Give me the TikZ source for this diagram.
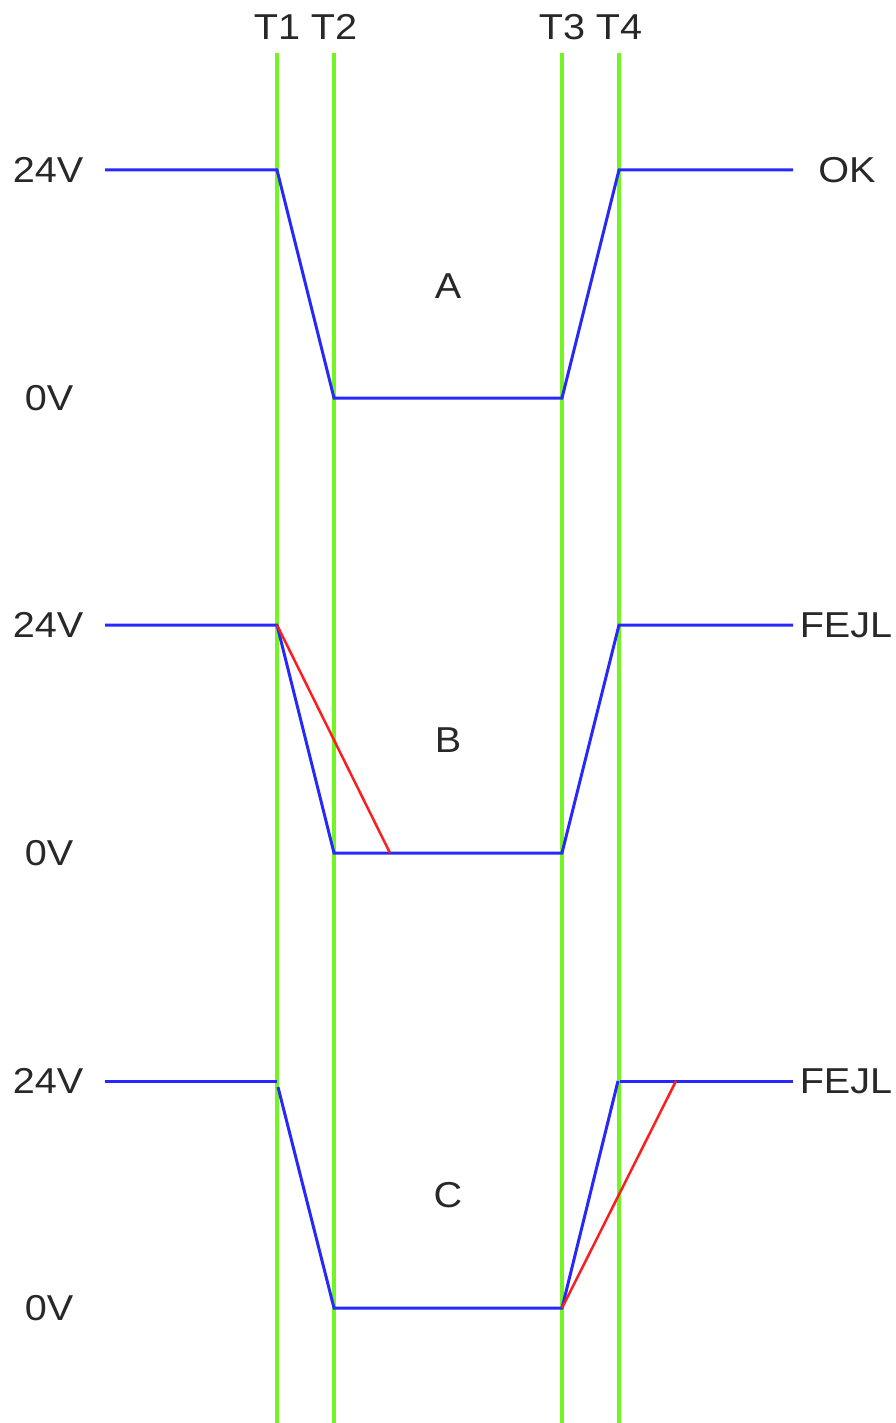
\documentclass[tikz,border=0pt]{standalone}
\usepackage{fontspec}
\setmainfont{Liberation Sans}[FakeStretch=1.1]
\definecolor{tgreen}{RGB}{115,245,35}
\definecolor{tblue}{RGB}{40,40,250}
\definecolor{tred}{RGB}{250,30,30}
\definecolor{tink}{RGB}{40,40,40}
\begin{document}
\begin{tikzpicture}[x=1pt,y=-1pt,
  lbl/.style={inner sep=0pt,text=tink,font=\fontsize{36}{36}\selectfont},
  timeline/.style={draw=tgreen,line width=3.2pt},
  wave/.style={draw=tblue,line width=3pt,line join=miter},
  fault/.style={draw=tred,line width=2.5pt}]
\useasboundingbox (0,0) rectangle (896,1423);
% time markers
\foreach \n/\x in {1/277,2/334,3/562,4/619}{
  \coordinate (t\n top) at (\x,53);
  \coordinate (t\n bot) at (\x,1423);
  \draw[timeline] (t\n top) -- (t\n bot);
  \node[lbl] (T\n) at (\x,27) {T\n};
}
% level labels
\foreach \s/\hi/\lo in {A/170/398,B/625/853,C/1081/1308}{
  \node[lbl] (hi\s) at (48,\hi) {24V};
  \node[lbl] (lo\s) at (49,\lo) {0V};
}
\node[lbl] (ok) at (847,170) {OK};
\node[lbl] (fejlB) at (846,625) {FEJL};
\node[lbl] (fejlC) at (846,1081) {FEJL};
\node[lbl] (lA) at (448,286) {A};
\node[lbl] (lB) at (448,740) {B};
\node[lbl] (lC) at (448,1195) {C};
% waveform A
\draw[wave] (105,170) -- (277,170) -- (334,398) -- (562,398) -- (619,170) -- (793,170);
% waveform B
\draw[wave] (105,625) -- (277,625) -- (334,853) -- (562,853) -- (619,625) -- (793,625);
\coordinate (bR1) at (277,625);
\coordinate (bR2) at (390,853);
\draw[fault] (bR1) -- (bR2);
% waveform C
\draw[wave] (105,1081) -- (277,1081);
\draw[wave] (278,1087) -- (334,1308) -- (562,1308) -- (618,1081);
\draw[wave] (620,1081) -- (793,1081);
\coordinate (cR1) at (562,1308);
\coordinate (cR2) at (676,1081);
\draw[fault] (cR1) -- (cR2);
\end{tikzpicture}
\end{document}
